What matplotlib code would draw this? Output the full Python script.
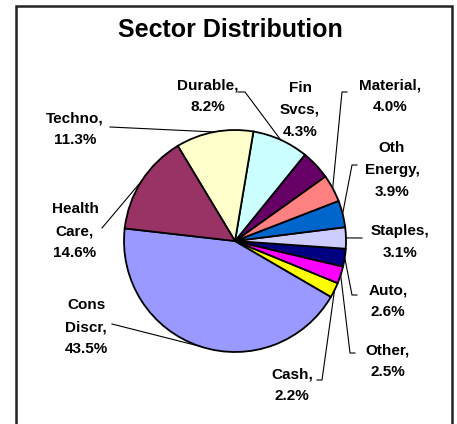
import numpy as np
import matplotlib
matplotlib.use('Agg')
import matplotlib.pyplot as plt
from matplotlib.patches import Rectangle

# data, counterclockwise from the left edge of the pie
sectors = ['Cons\nDiscr', 'Cash', 'Other', 'Auto', 'Staples', 'Oth\nEnergy',
           'Material', 'Fin\nSvcs', 'Durable', 'Techno', 'Health\nCare']
weights = [43.5, 2.2, 2.5, 2.6, 3.1, 3.9, 4.0, 4.3, 8.2, 11.3, 14.6]
colors = ['#9999FF', '#FFFF00', '#FF00FF', '#000080', '#CCCCFF', '#0066CC',
          '#FF8080', '#660066', '#CCFFFF', '#FFFFCC', '#993366']

W, H = 457, 424
cx, cy, R = 235, 241, 111   # pie centre / radius in pixels

# label centre (px) and leader-line path from label towards the slice (px)
label_pos = {
    'Cons\nDiscr': ((86, 327), [(112, 324)]),
    'Cash': ((292, 385), [(317, 380), (322, 380)]),
    'Other': ((388, 361), [(355, 353), (350, 353)]),
    'Auto': ((388, 301), [(357, 295), (352, 295)]),
    'Staples': ((400, 242), [(362, 238)]),
    'Oth\nEnergy': ((392, 170), [(357, 165), (352, 165)]),
    'Material': ((390, 96), [(347, 92), (342, 92)]),
    'Fin\nSvcs': ((300, 110), []),
    'Durable': ((208, 96), [(238, 92), (245, 92)]),
    'Techno': ((75, 129), [(110, 127)]),
    'Health\nCare': ((75, 231), [(102, 228)]),
}

def px(p):
    return ((p[0] - cx) / R, (cy - p[1]) / R)

fig = plt.figure(figsize=(W / 100, H / 100), dpi=100)
ax = fig.add_axes([(cx - R) / W, (H - cy - R) / H, 2 * R / W, 2 * R / H])
wedges, _ = ax.pie(weights, colors=colors, startangle=173.5, counterclock=True,
                   wedgeprops=dict(edgecolor='black', linewidth=1.3))
ax.set_xlim(-1, 1)
ax.set_ylim(-1, 1)
ax.axis('off')

for w, name, val in zip(wedges, sectors, weights):
    (tx, ty), path = label_pos[name]
    ax.text(*px((tx, ty)), f'{name},\n{val:.1f}%', ha='center', va='center',
            multialignment='center', fontsize=11, fontweight='bold',
            family='Liberation Sans', linespacing=1.72, clip_on=False)
    if path:
        mid = np.deg2rad((w.theta1 + w.theta2) / 2)
        pts = [px(p) for p in path] + [(np.cos(mid), np.sin(mid))]
        xs, ys = zip(*pts)
        ax.plot(xs, ys, color='black', lw=0.8, clip_on=False)

fig.text(230 / W, 1 - 30 / H, 'Sector Distribution', ha='center', va='center',
         fontsize=18, fontweight='bold', family='Liberation Sans')
fig.add_artist(Rectangle((16 / W, -0.1), (452 - 16) / W, 0.1 + (H - 6) / H,
                         transform=fig.transFigure, fill=False,
                         edgecolor='#222222', lw=1.8))

plt.savefig('out.png', dpi=100)
